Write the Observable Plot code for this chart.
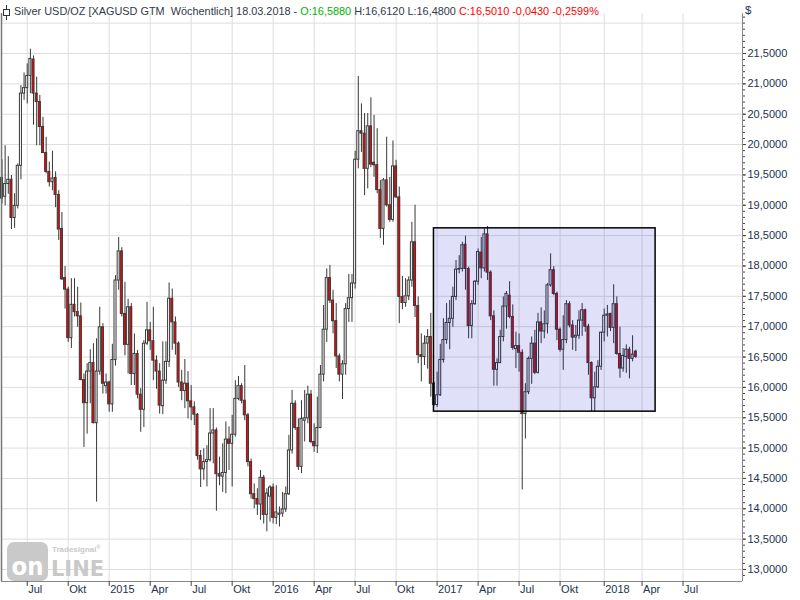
<!DOCTYPE html>
<html><head><meta charset="utf-8">
<script src="https://cdn.jsdelivr.net/npm/d3@7"></script>
<script src="https://cdn.jsdelivr.net/npm/@observablehq/plot@0.6"></script>
<style>
body{margin:0;background:#fff;}
#wrap{position:relative;width:800px;height:600px;overflow:hidden;font-family:"Liberation Sans",Arial,sans-serif;}
#chart{position:absolute;left:0;top:0;}
#hdr{position:absolute;left:14px;top:4px;font-size:10.9px;white-space:pre;color:#333a48;line-height:14px;}
#icon{position:absolute;left:1px;top:3px;}
#cur{position:absolute;left:745px;top:4px;font-size:11.5px;color:#22334d;}
#wm{position:absolute;left:0;top:535px;}
.g{color:#00b400}.r{color:#ff0000}
</style></head>
<body><div id="wrap"><div id="chart"></div>
<svg id="icon" width="12" height="18"><line x1="5.5" y1="2" x2="5.5" y2="17" stroke="#333" stroke-width="1"/><rect x="2.5" y="6.5" width="6" height="6" fill="#fff" stroke="#333"/></svg>
<div id="hdr">Silver USD/OZ [XAGUSD GTM  Wöchentlich] 18.03.2018 - <span class="g">O:16,5880</span> H:16,6120 L:16,4800 <span class="r">C:16,5010 -0,0430 -0,2599%</span></div>
<div id="cur">$</div>
<svg id="wm" width="112" height="50">
<rect x="7" y="7" width="41" height="39" rx="7" fill="#c9c9c9"/>
<text x="27.5" y="40" text-anchor="middle" font-family="DejaVu Sans" font-weight="bold" font-size="25" fill="#fff" textLength="32" lengthAdjust="spacingAndGlyphs">on</text>
<text x="51" y="41" font-family="DejaVu Sans" font-weight="bold" font-size="22" fill="#c9c9c9" textLength="53" lengthAdjust="spacingAndGlyphs">LINE</text>
<text x="52" y="17" font-family="Liberation Sans" font-weight="bold" font-size="8" fill="#c9c9c9">Tradesignal<tspan font-size="5" dy="-3">®</tspan></text>
</svg>
</div>
<script>
const openP = [19.45,19.14,19.35,19.42,18.79,18.99,19.65,20.84,20.93,21.13,21.40,20.84,20.70,20.29,19.86,19.55,19.38,19.45,19.17,18.61,
17.80,17.61,16.81,17.36,17.24,17.17,16.12,15.74,16.26,16.40,15.41,16.26,16.99,16.02,16.08,15.72,16.45,17.76,18.24,17.21,
16.70,17.32,16.22,16.55,15.88,15.63,16.72,16.94,16.76,16.44,16.26,15.69,16.11,16.42,17.46,17.07,16.72,16.08,15.94,16.06,
15.77,15.67,15.55,14.87,14.65,14.77,14.80,15.24,15.29,14.57,14.53,14.59,15.14,15.07,15.22,15.81,16.02,15.78,15.54,14.77,
14.24,14.16,14.07,14.51,13.90,14.20,14.35,13.85,13.90,13.92,13.99,14.24,14.96,15.73,15.33,14.69,15.45,15.49,15.88,15.10,
15.03,15.33,16.21,16.95,17.80,17.43,17.09,16.51,16.21,16.38,17.29,17.47,17.71,19.75,20.22,20.18,19.60,20.30,19.70,19.66,
19.25,18.61,19.41,19.00,18.76,19.64,19.13,17.49,17.39,17.50,17.76,18.39,17.34,16.53,16.50,16.72,16.83,16.06,15.71,15.87,
16.45,16.78,17.06,17.13,17.49,17.94,17.95,18.35,17.95,17.01,17.37,17.74,18.22,17.96,18.52,17.89,17.17,16.29,16.40,16.83,
17.33,17.51,17.16,16.63,16.68,16.57,15.56,15.92,16.47,16.72,16.24,17.07,16.92,17.04,17.68,17.93,17.54,16.95,16.62,16.78,
17.37,17.02,16.82,16.85,17.10,17.27,17.00,16.40,15.82,16.00,16.34,16.90,17.18,17.21,16.98,17.37,16.55,16.31,16.50,16.62,
16.47,16.588];
const highP = [19.75,19.98,19.80,19.49,19.19,19.68,20.97,21.18,21.33,21.57,21.46,21.11,20.81,20.45,20.12,19.71,19.89,19.55,19.24,18.88,
17.99,17.65,17.79,17.79,17.65,17.39,16.22,16.39,16.62,16.72,16.80,17.32,17.05,16.22,16.10,16.71,17.84,18.47,18.30,17.73,
17.45,17.38,16.88,16.61,15.98,16.77,17.40,17.07,17.32,16.52,16.39,16.75,16.75,17.72,17.62,17.16,16.75,16.28,16.46,16.26,
16.03,15.76,15.57,14.96,14.99,15.04,15.65,15.65,15.33,14.85,15.07,15.43,15.35,15.54,16.11,16.18,16.06,16.36,15.57,14.82,
14.41,14.33,14.63,14.55,14.33,14.38,14.41,14.38,14.03,14.27,14.36,15.21,15.95,15.78,15.48,15.78,15.95,16.02,15.95,15.40,
15.84,16.36,17.35,17.95,18.01,17.60,17.38,16.55,16.44,17.38,17.86,17.86,19.89,21.12,20.67,20.51,20.51,20.77,20.48,20.26,
19.41,19.44,20.12,19.46,20.06,19.74,19.30,17.83,17.79,17.82,18.72,19.00,17.49,16.88,16.85,16.95,17.22,16.09,16.25,16.71,
17.13,17.38,17.43,17.65,18.09,18.17,18.39,18.49,17.98,17.43,17.76,18.28,18.47,18.61,18.65,17.92,17.26,16.47,16.94,17.49,
17.58,17.74,17.36,16.91,16.88,16.62,16.06,16.50,16.83,16.94,17.22,17.31,17.26,17.71,18.20,17.99,17.57,16.98,17.18,17.43,
17.41,17.10,17.02,17.26,17.38,17.29,17.04,16.42,16.25,16.44,16.91,17.29,17.35,17.22,17.69,17.49,16.99,16.64,16.70,16.66,
16.85,16.612];
const lowP = [19.02,18.99,19.18,18.60,18.62,18.94,19.42,20.73,20.67,20.84,20.32,19.98,19.98,19.85,19.52,19.30,19.24,18.96,18.42,17.76,
17.29,16.74,16.64,17.16,16.99,16.11,15.01,15.23,15.73,15.40,14.11,16.20,15.89,15.89,15.59,15.59,16.35,17.60,17.16,16.52,
16.22,16.03,16.03,15.81,15.26,15.34,16.69,16.61,16.11,15.97,15.56,15.55,16.05,16.33,16.61,16.53,16.00,15.78,15.65,15.48,
15.45,15.37,14.80,14.35,14.47,14.36,14.77,14.74,13.96,14.38,14.27,14.25,14.63,14.36,15.18,15.78,15.73,15.45,14.69,14.16,
14.00,13.89,13.81,13.75,13.62,13.78,13.75,13.74,13.70,13.86,13.94,14.22,14.90,15.29,14.63,14.58,15.10,15.40,15.07,14.93,
14.91,15.32,16.09,16.74,17.38,16.88,16.31,16.09,15.80,16.20,17.07,17.07,17.62,19.60,19.87,19.16,19.27,19.62,19.46,19.19,
18.45,18.34,18.97,18.72,18.72,19.11,17.05,17.28,17.32,17.43,17.65,17.15,16.39,16.09,16.36,16.30,15.84,15.68,15.67,15.85,
16.40,16.71,16.62,16.99,17.43,17.87,17.90,17.60,16.80,16.80,17.35,17.68,17.79,17.90,17.76,17.10,16.02,16.02,16.39,16.75,
16.96,17.13,16.61,16.31,16.25,14.31,15.15,15.88,16.05,16.21,16.22,16.72,16.80,16.88,17.65,17.51,16.77,16.58,16.28,16.72,
16.98,16.61,16.59,16.79,16.84,16.91,16.20,15.60,15.60,15.98,16.28,16.75,16.83,16.92,16.72,16.53,16.15,16.25,16.23,16.14,
16.42,16.48];
const closeP = [19.11,19.35,19.42,18.79,18.99,19.65,20.84,20.93,21.13,21.41,20.84,20.70,20.29,19.86,19.55,19.38,19.44,19.17,18.60,17.78,
17.61,16.81,17.36,17.24,17.17,16.12,15.74,16.26,16.40,15.41,16.26,16.99,16.06,16.08,15.72,16.45,17.76,18.24,17.21,16.70,
17.32,16.22,16.55,15.88,15.63,16.72,16.94,16.76,16.44,16.26,15.70,16.11,16.42,17.46,17.07,16.72,16.08,15.94,16.06,15.77,
15.67,15.55,14.87,14.65,14.77,14.80,15.24,15.29,14.57,14.53,14.59,15.14,15.07,15.22,15.81,16.02,15.78,15.54,14.77,14.24,
14.16,14.07,14.51,13.90,14.25,14.35,13.85,13.94,13.92,13.99,14.24,14.96,15.73,15.33,14.69,15.48,15.49,15.88,15.10,15.03,
15.33,16.21,16.95,17.80,17.43,17.09,16.51,16.21,16.38,17.29,17.47,17.71,19.75,20.22,20.18,19.60,20.30,19.67,19.66,19.25,
18.61,19.41,19.00,18.76,19.64,19.13,17.49,17.39,17.50,17.76,18.39,17.34,16.53,16.50,16.72,16.83,16.06,15.71,15.87,16.45,
16.78,17.06,17.13,17.49,17.94,17.95,18.34,17.95,17.01,17.37,17.74,18.23,17.96,18.52,17.89,17.17,16.29,16.40,16.83,17.33,
17.54,17.16,16.65,16.68,16.57,15.56,15.92,16.47,16.72,16.24,17.07,16.92,17.04,17.68,17.93,17.54,16.95,16.62,16.78,17.37,
17.02,16.82,16.85,17.10,17.27,17.00,16.40,15.82,16.00,16.34,16.90,17.18,17.20,16.98,17.37,16.55,16.31,16.52,16.62,16.47,
16.54,16.501];

// quarter ticks (week index of first bar of the month) and labels
const tickIdx = [8,21,34,47,60,73,86,99,112,125,138,151,164,177,191,203,216];
const tickLabels = ["Jul","Okt","2015","Apr","Jul","Okt","2016","Apr","Jul","Okt","2017","Apr","Jul","Okt","2018","Apr","Jul"];
const yLabelTicks = [13,13.5,14,14.5,15,15.5,16,16.5,17,17.5,18,18.5,19,19.5,20,20.5,21,21.5];
const yGrid = [13,13.5,14,14.5,15,15.5,16,16.5,17,17.5,18,18.5,19,19.5,20,20.5,21,21.5,22];
// highlighted consolidation range
const boxStart = [137], boxEnd = [207.3], boxLow = [15.60], boxHigh = [18.62];

const xDomain = [-0.159, 234.86];
const yDomain = [12.802, 22.159];

const candles = openP.map((o, i) => ({i, open: o, high: highP[i], low: lowP[i], close: closeP[i]}));
const box = boxStart.map((s, k) => ({start: s, end: boxEnd[k], low: boxLow[k], high: boxHigh[k]}));
const minorTicks = d3.range(129, 222).map(v => v / 10);
const fmt = d => d.toFixed(4).replace(".", ",");
const lab = "#22334d";

const chart = Plot.plot({
  width: 800, height: 600,
  marginTop: 13, marginBottom: 19, marginLeft: 1, marginRight: 58,
  style: {fontFamily: "Liberation Sans, Arial, sans-serif", fontSize: "11px", background: "transparent"},
  x: {type: "linear", domain: xDomain},
  y: {type: "linear", domain: yDomain},
  marks: [
    Plot.ruleX(tickIdx, {x: d => d, stroke: "#dddddd"}),
    Plot.ruleY(yGrid, {y: d => d, stroke: "#dddddd"}),
    Plot.ruleX(candles, {x: "i", y1: "low", y2: "high", stroke: "#383838", strokeWidth: 1}),
    Plot.rect(candles, {x1: d => d.i - 0.32, x2: d => d.i + 0.32, y1: "open", y2: "close",
      fill: d => d.close >= d.open ? "#ffffff" : "#ff0000", stroke: "#383838", strokeWidth: 1}),
    Plot.rect(box, {x1: "start", x2: "end", y1: "low", y2: "high", fill: "rgb(0,0,200)", fillOpacity: 0.12, stroke: "#000", strokeWidth: 1.5}),
    Plot.ruleX([xDomain[0]], {x: d => d, stroke: "#777", strokeWidth: 1.5}),
    Plot.ruleX([xDomain[1]], {x: d => d, stroke: "#888"}),
    Plot.ruleY([yDomain[0]], {y: d => d, stroke: "#888"}),
    Plot.axisY({anchor: "right", ticks: yLabelTicks, tickFormat: fmt, tickSize: 3, tickPadding: 2, stroke: "#444", fill: lab, fontSize: 11}),
    Plot.axisY({anchor: "right", ticks: minorTicks, tickFormat: () => "", tickSize: 2, stroke: "#444"}),
    Plot.axisX({anchor: "bottom", ticks: tickIdx, tickFormat: () => "", tickSize: 5, stroke: "#444"}),
    Plot.text(tickIdx, {x: d => d, text: (d, i) => tickLabels[i], frameAnchor: "bottom", dy: 11, dx: 1, textAnchor: "start", fill: lab, fontSize: 11})
  ]
});
document.getElementById("chart").appendChild(chart);
</script>
</body></html>
